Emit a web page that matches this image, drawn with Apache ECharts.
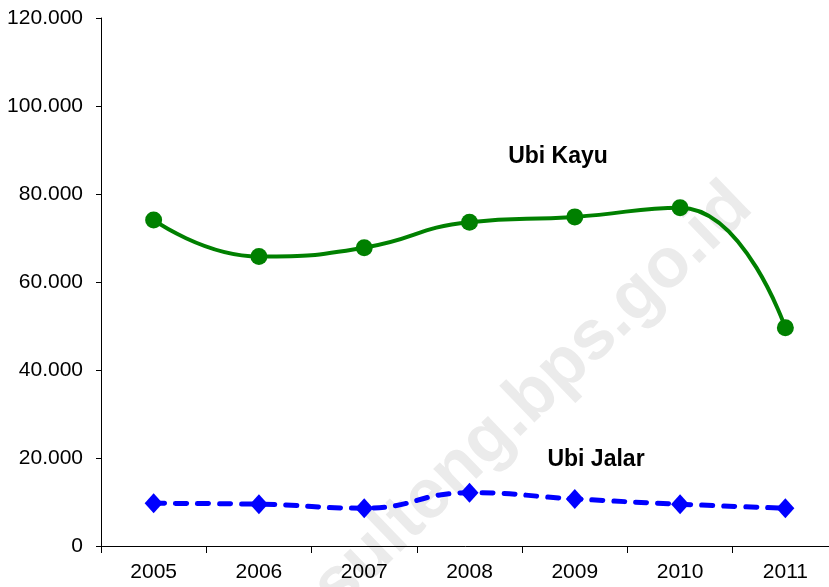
<!DOCTYPE html>
<html>
<head>
<meta charset="utf-8">
<script src="https://cdn.jsdelivr.net/npm/echarts@6/dist/echarts.min.js"></script>
<style>
html,body{margin:0;padding:0;background:#fff;}
#chart{width:829px;height:587px;}
</style>
</head>
<body>
<div id="chart"></div>
<script>
const years = ['2005','2006','2007','2008','2009','2010','2011'];
const ubiKayu = [74100, 65800, 67800, 73600, 74800, 76900, 49600];
const ubiJalar = [9700, 9500, 8600, 12100, 10700, 9500, 8600];
const yTicks = [0, 20000, 40000, 60000, 80000, 100000, 120000];

function fmt(v){
  if (v === 0) return '0';
  return String(v).replace(/\B(?=(\d{3})+(?!\d))/g, '.');
}

const chart = echarts.init(document.getElementById('chart'), null, {renderer:'canvas'});
const FONT = '"Liberation Sans", Arial, sans-serif';
chart.setOption({
  backgroundColor: '#ffffff',
  animation: false,
  grid: {left: 101, top: 18, width: 737, height: 528, outerBoundsMode: 'none', containLabel: false},
  xAxis: {
    type: 'category',
    data: years,
    boundaryGap: true,
    axisLine: {lineStyle: {color: '#000', width: 1}},
    axisTick: {show: true, length: 7, lineStyle: {color: '#000'}},
    axisLabel: {color: '#000', fontSize: 21, fontFamily: FONT, margin: 16}
  },
  yAxis: {
    type: 'value',
    min: yTicks[0],
    max: yTicks[yTicks.length - 1],
    interval: 20000,
    splitLine: {show: false},
    axisLine: {show: true, lineStyle: {color: '#000', width: 1}},
    axisTick: {show: true, length: 5, lineStyle: {color: '#000'}},
    axisLabel: {color: '#000', fontSize: 21, fontFamily: FONT, margin: 18, formatter: fmt}
  },
  graphic: [
    {
      type: 'text', z: -10, silent: true,
      x: 533, y: 397, rotation: 44 * Math.PI / 180,
      style: {text: 'sulteng.bps.go.id', fill: '#ebebeb', font: 'bold 70px "Liberation Sans", Arial, sans-serif', align: 'center', verticalAlign: 'middle'}
    },
    {
      type: 'text', z: 100,
      x: 558, y: 157,
      style: {text: 'Ubi Kayu', fill: '#000', font: 'bold 23px "Liberation Sans", Arial, sans-serif', align: 'center', verticalAlign: 'middle'}
    },
    {
      type: 'text', z: 100,
      x: 596, y: 460,
      style: {text: 'Ubi Jalar', fill: '#000', font: 'bold 23px "Liberation Sans", Arial, sans-serif', align: 'center', verticalAlign: 'middle'}
    }
  ],
  series: [
    {
      name: 'Ubi Kayu', type: 'line', data: ubiKayu, smooth: 0.5,
      symbol: 'circle', symbolSize: 17,
      lineStyle: {color: '#008000', width: 4},
      itemStyle: {color: '#008000'}
    },
    {
      name: 'Ubi Jalar', type: 'line', data: ubiJalar, smooth: 0.5,
      symbol: 'diamond', symbolSize: [18, 20],
      lineStyle: {color: '#0000ff', width: 5, type: [11, 11], cap: 'round'},
      itemStyle: {color: '#0000ff'}
    }
  ]
});
</script>
</body>
</html>
